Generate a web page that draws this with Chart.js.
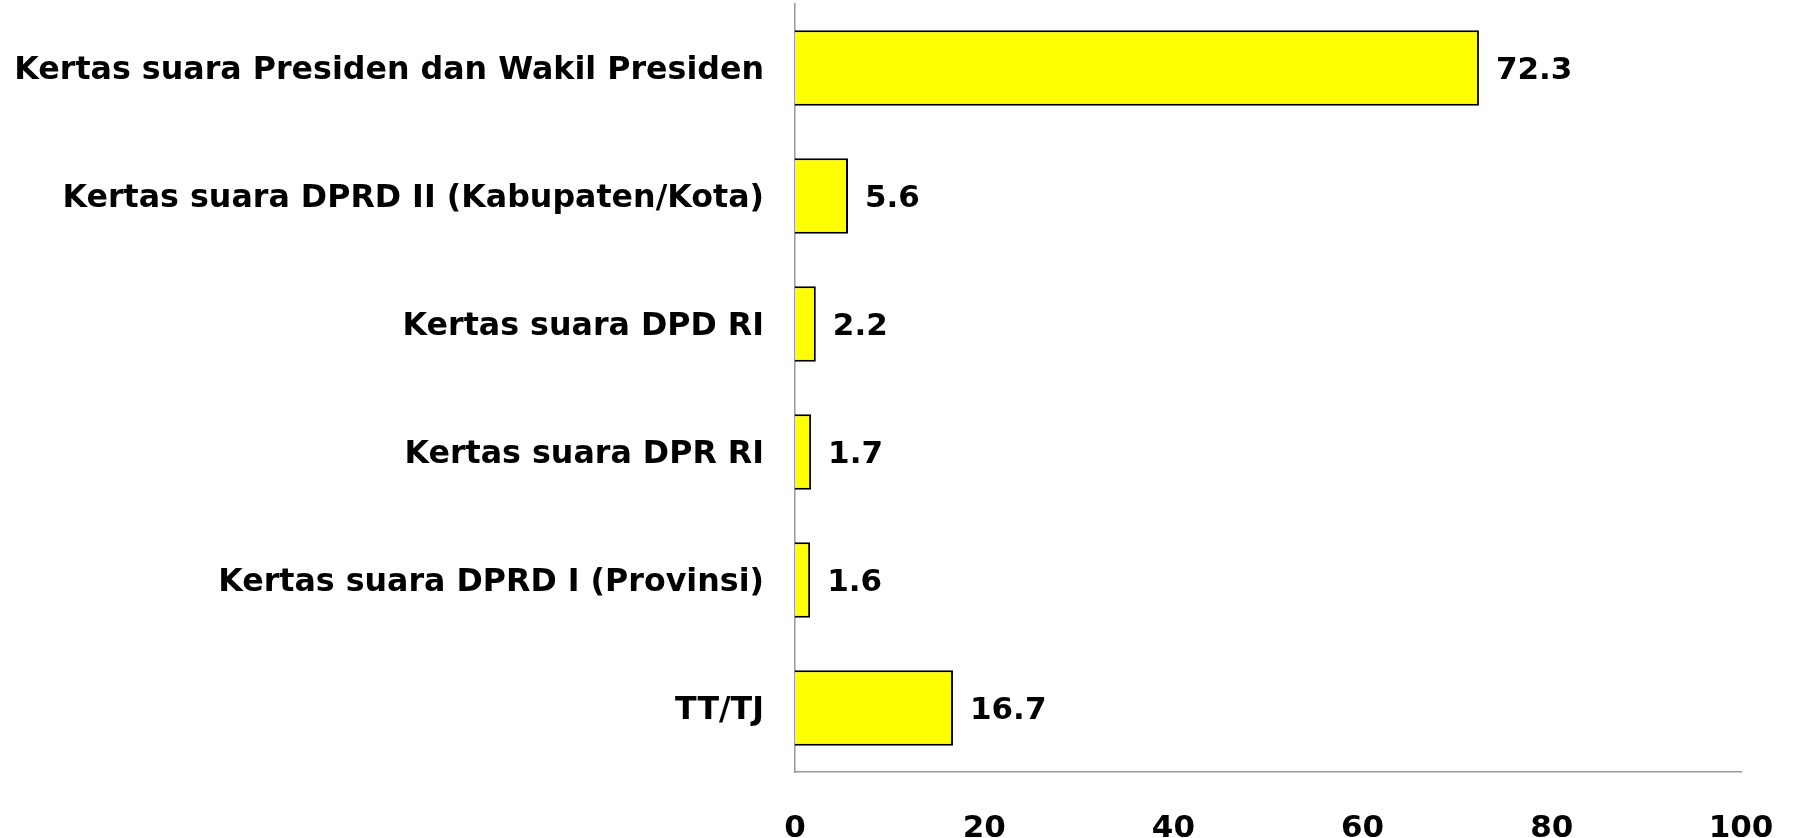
<!DOCTYPE html>
<html>
<head>
<meta charset="utf-8">
<script src="https://cdn.jsdelivr.net/npm/chart.js@4.4.1/dist/chart.umd.min.js"></script>
<style>
  html, body { margin: 0; padding: 0; background: #fff; }
  #wrap { width: 1794px; height: 838px; }
</style>
</head>
<body>
<div id="wrap"><canvas id="c" width="1794" height="838"></canvas></div>
<script>
const categories = [
  "Kertas suara Presiden dan Wakil Presiden",
  "Kertas suara DPRD II (Kabupaten/Kota)",
  "Kertas suara DPD RI",
  "Kertas suara DPR RI",
  "Kertas suara DPRD I (Provinsi)",
  "TT/TJ"
];
const values = [72.3, 5.6, 2.2, 1.7, 1.6, 16.7];
const xTicks = [0, 20, 40, 60, 80, 100];

const FONT = "'DejaVu Sans', Verdana, sans-serif";

const valueLabels = {
  id: 'valueLabels',
  afterDatasetsDraw(chart) {
    const ctx = chart.ctx;
    const meta = chart.getDatasetMeta(0);
    ctx.save();
    ctx.font = "bold 31px " + FONT;
    ctx.fillStyle = "#000";
    ctx.textAlign = "left";
    ctx.textBaseline = "middle";
    meta.data.forEach((bar, i) => {
      ctx.fillText(values[i].toFixed(1), bar.x + 17, bar.y + 3);
    });
    ctx.restore();
  }
};

function zeroPad(scale) {
  scale.paddingTop = 0; scale.paddingBottom = 0;
  scale.paddingLeft = 0; scale.paddingRight = 0;
}

new Chart(document.getElementById('c'), {
  type: 'bar',
  data: {
    labels: categories,
    datasets: [{
      data: values,
      backgroundColor: '#FFFF00',
      borderColor: '#000000',
      borderWidth: 2,
      borderSkipped: 'start',
      barPercentage: 0.59,
      categoryPercentage: 1.0
    }]
  },
  options: {
    indexAxis: 'y',
    responsive: false,
    animation: false,
    layout: { padding: { top: 4, right: 53, bottom: 0, left: 0 } },
    plugins: { legend: { display: false }, tooltip: { enabled: false } },
    scales: {
      x: {
        min: 0, max: 100,
        afterBuildTicks(scale) { scale.ticks = xTicks.map(v => ({ value: v })); },
        afterFit(scale) { scale.height = 66; zeroPad(scale); },
        grid: { display: false, drawTicks: false },
        border: { display: true, color: '#999999', width: 1.5 },
        ticks: {
          color: '#000',
          padding: 38,
          maxRotation: 0,
          font: { family: FONT, size: 31, weight: 'bold' }
        }
      },
      y: {
        afterFit(scale) { scale.width = 795; zeroPad(scale); },
        grid: { display: false, drawTicks: false },
        border: { display: true, color: '#999999', width: 1.5 },
        ticks: {
          color: '#000',
          padding: 31,
          labelOffset: 3,
          font: { family: FONT, size: 31.7, weight: 'bold' }
        }
      }
    }
  },
  plugins: [valueLabels]
});
</script>
</body>
</html>
